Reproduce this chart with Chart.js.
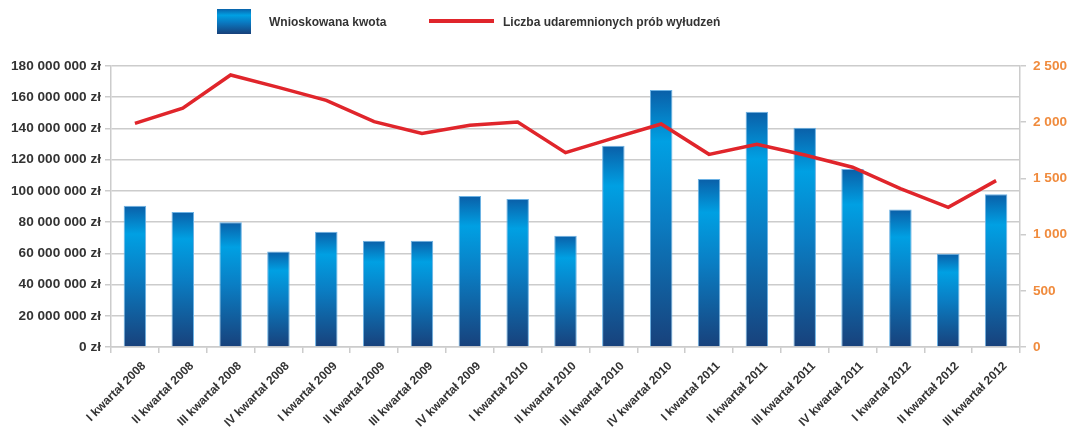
<!DOCTYPE html>
<html>
<head>
<meta charset="utf-8">
<script src="https://cdn.jsdelivr.net/npm/chart.js@4"></script>
<style>
  html, body { margin: 0; padding: 0; background: #fff; }
  .wrap { position: relative; width: 1073px; height: 430px; }
  .legend { position: absolute; top: 0; left: 0; width: 1073px; height: 44px; font: bold 12px "Liberation Sans", Arial, sans-serif; color: #333; }
  .legend .box { position: absolute; left: 217px; top: 9px; width: 34px; height: 25px; background: linear-gradient(#0a62aa, #00a0e3 25%, #0a78c0 55%, #17407a); }
  .legend .line { position: absolute; left: 429px; top: 19px; width: 65px; height: 4px; background: #e0252b; }
  .legend span { position: absolute; top: 15px; }
</style>
</head>
<body>
<div class="wrap">
  <canvas id="chart" width="1073" height="430"></canvas>
  <div class="legend">
    <div class="box"></div><span style="left:269px">Wnioskowana kwota</span>
    <div class="line"></div><span style="left:503px">Liczba udaremnionych prób wyłudzeń</span>
  </div>
</div>
<script>
// ======================================================
// DATA
// ======================================================
const categories = [
  'I kwartał 2008', 'II kwartał 2008', 'III kwartał 2008', 'IV kwartał 2008',
  'I kwartał 2009', 'II kwartał 2009', 'III kwartał 2009', 'IV kwartał 2009',
  'I kwartał 2010', 'II kwartał 2010', 'III kwartał 2010', 'IV kwartał 2010',
  'I kwartał 2011', 'II kwartał 2011', 'III kwartał 2011', 'IV kwartał 2011',
  'I kwartał 2012', 'II kwartał 2012', 'III kwartał 2012'
];
const kwota = [
  90500000, 86500000, 79900000, 61100000, 73900000, 68100000, 68100000, 96700000,
  94800000, 71300000, 128900000, 164600000, 107600000, 150700000, 140500000, 114000000,
  88000000, 59800000, 97800000
];
const proby = [
  1990, 2124, 2420, 2310, 2195, 2005, 1900, 1972, 2002, 1729,
  1858, 1984, 1714, 1803, 1708, 1599, 1410, 1243, 1480
];
const leftTicks = { max: 180000000, step: 20000000 };
const rightTicks = { max: 2500, step: 500 };

const spaced = v => String(v).replace(/\B(?=(\d{3})+(?!\d))/g, ' ');
const axisFont = { family: '"Liberation Sans", Arial, sans-serif', size: 13.6, weight: 'bold' };
const gridGray = '#cccccc';

function barGradient(c) {
  const chart = c.chart;
  if (c.type !== 'data' || !chart.chartArea) return '#0a78c0';
  const y = chart.scales.y;
  const top = y.getPixelForValue(c.raw);
  const bottom = y.getPixelForValue(0);
  const g = chart.ctx.createLinearGradient(0, top, 0, bottom);
  g.addColorStop(0, '#0a5fa8');
  g.addColorStop(0.2, '#00a0e3');
  g.addColorStop(0.5, '#0a7ec4');
  g.addColorStop(1, '#18417b');
  return g;
}

new Chart(document.getElementById('chart'), {
  type: 'bar',
  data: {
    labels: categories,
    datasets: [
      {
        type: 'line',
        label: 'Liczba udaremnionych prób wyłudzeń',
        data: proby,
        yAxisID: 'y1',
        borderColor: '#e0252b',
        borderWidth: 3.5,
        pointRadius: 0,
        tension: 0,
        order: 0
      },
      {
        label: 'Wnioskowana kwota',
        data: kwota,
        yAxisID: 'y',
        backgroundColor: barGradient,
        borderColor: '#6cb2e4',
        borderWidth: 1,
        categoryPercentage: 1,
        barPercentage: 0.47,
        order: 1
      }
    ]
  },
  options: {
    responsive: false,
    animation: false,
    layout: { padding: { top: 66, left: 0, right: 0, bottom: 0 } },
    plugins: { legend: { display: false }, tooltip: { enabled: false } },
    scales: {
      x: {
        afterFit: s => { s.height = 83; },
        grid: { drawOnChartArea: false, tickLength: 6, color: gridGray, lineWidth: 1.5 },
        border: { color: gridGray, width: 1.5 },
        ticks: { autoSkip: false, minRotation: 45, maxRotation: 45, padding: 6, labelOffset: 9, color: '#333', font: { ...axisFont, size: 12 } }
      },
      y: {
        position: 'left',
        min: 0, max: leftTicks.max,
        afterFit: s => { s.width = 111; },
        grid: { color: gridGray, lineWidth: 1.5, tickLength: 6 },
        border: { color: gridGray, width: 1.5 },
        ticks: { stepSize: leftTicks.step, padding: 4, color: '#333', font: axisFont, callback: v => spaced(v) + ' zł' }
      },
      y1: {
        position: 'right',
        min: 0, max: rightTicks.max,
        afterFit: s => { s.width = 53; },
        grid: { drawOnChartArea: false, color: gridGray, lineWidth: 1.5, tickLength: 6 },
        border: { color: gridGray, width: 1.5 },
        ticks: { stepSize: rightTicks.step, padding: 7, color: '#f08b3d', font: axisFont, callback: v => spaced(v) }
      }
    }
  }
});
</script>
</body>
</html>
